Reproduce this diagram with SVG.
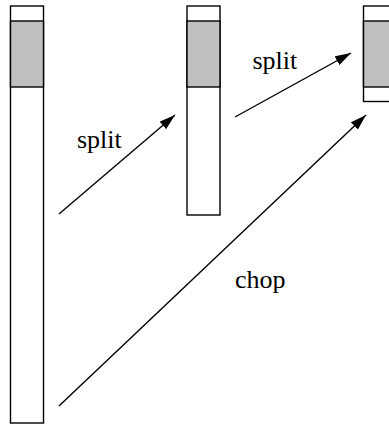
<svg xmlns="http://www.w3.org/2000/svg" width="389" height="426" viewBox="0 0 389 426">
<style>
.box{fill:#fff;stroke:#000;stroke-width:1.4}
.gray{fill:#bfbfbf;stroke:#000;stroke-width:1.4}
.lbl{font-family:"Liberation Serif",serif;font-size:26px;fill:#000}
.conn{stroke:#000;stroke-width:1.4;fill:none}
</style>
<defs>
<marker id="ah" markerWidth="16" markerHeight="10" refX="16" refY="5" orient="auto" markerUnits="userSpaceOnUse">
<path d="M0,0 L16,5 L0,10 z" fill="#000"/>
</marker>
</defs>
<g id="col-left">
<rect class="box" x="10.5" y="6" width="33" height="417"/>
<rect class="gray" x="10.5" y="21" width="33" height="66"/>
</g>
<g id="col-middle">
<rect class="box" x="187" y="6" width="33" height="209"/>
<rect class="gray" x="187" y="21" width="33" height="66"/>
</g>
<g id="col-right">
<rect class="box" x="363.5" y="6" width="33" height="95.5"/>
<rect class="gray" x="363.5" y="21" width="33" height="66"/>
</g>
<g id="connectors">
<line class="conn" x1="59" y1="214" x2="175" y2="115" marker-end="url(#ah)"/>
<line class="conn" x1="235" y1="117" x2="351" y2="53" marker-end="url(#ah)"/>
<line class="conn" x1="59" y1="406" x2="366" y2="115" marker-end="url(#ah)"/>
</g>
<g id="labels">
<text class="lbl" x="77" y="147.5">split</text>
<text class="lbl" x="252.5" y="69">split</text>
<text class="lbl" x="235" y="288">chop</text>
</g>
</svg>
